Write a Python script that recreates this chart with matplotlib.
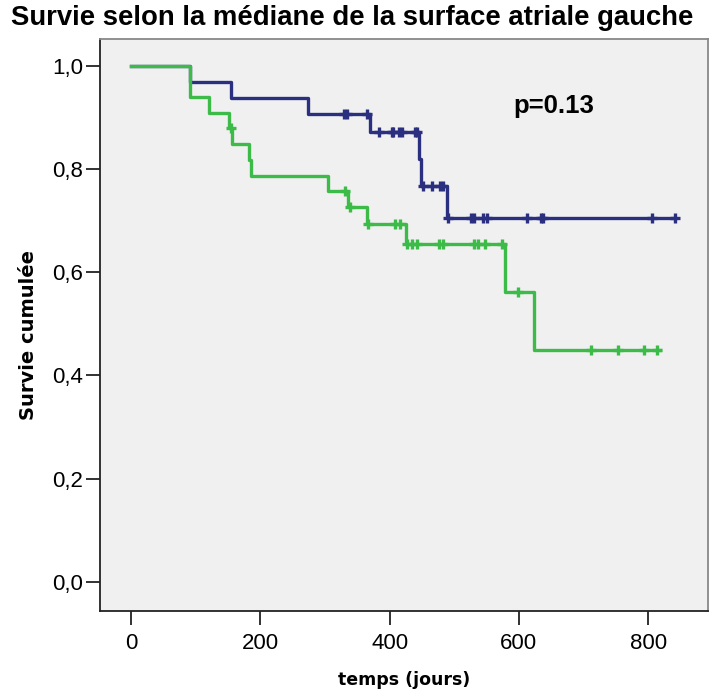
import numpy as np
import matplotlib.pyplot as plt

plt.rcParams['font.family'] = ['Liberation Sans', 'DejaVu Sans']

# Group 1 (blue): event times / survival levels (step after each time)
blue_times = [0, 92, 154, 274, 369, 445, 448, 489, 842]
blue_surv = [1.0, 0.968, 0.937, 0.907, 0.871, 0.820, 0.767, 0.705, 0.705]
blue_censor = [329, 334, 365, 383, 404, 406, 414, 419, 440, 442, 452, 465, 478,
               483, 490, 526, 531, 544, 551, 613, 634, 637, 806, 841]

# Group 2 (green)
green_times = [0, 92, 121, 152, 157, 183, 185, 305, 335, 365, 426, 578, 624, 819]
green_surv = [1.0, 0.939, 0.908, 0.880, 0.848, 0.818, 0.787, 0.758, 0.727,
              0.693, 0.654, 0.561, 0.449, 0.449]
green_censor = [154, 331, 339, 366, 409, 416, 427, 434, 443, 477, 483, 531, 536,
                548, 574, 598, 711, 753, 793, 813]

x_ticks = [0, 200, 400, 600, 800]
y_ticks = [0.0, 0.2, 0.4, 0.6, 0.8, 1.0]
y_labels = ['0,0', '0,2', '0,4', '0,6', '0,8', '1,0']

BLUE = '#2b2f7f'
GREEN = '#3cbb48'


def level_at(times, surv, t):
    # value of the step curve at time t
    i = np.searchsorted(times, t, side='right') - 1
    return surv[i]


fig = plt.figure(figsize=(7.09, 6.93), dpi=100)
ax = fig.add_axes([0.141, 0.118, 0.858, 0.826])
ax.set_facecolor('#f0f0f0')

for times, surv, cens, col in [(blue_times, blue_surv, blue_censor, BLUE),
                               (green_times, green_surv, green_censor, GREEN)]:
    ax.step(times, surv, where='post', color=col, lw=2.4, zorder=3)
    cy = [level_at(times, surv, t) for t in cens]
    ax.plot(cens, cy, ls='none', marker='+', ms=7, mew=2.4, color=col, zorder=4)

ax.text(591, 0.922, 'p=0.13', fontsize=18.5, fontweight='bold', ha='left', va='center')

ax.set_xlim(-48, 893)
ax.set_ylim(-0.057, 1.052)
ax.set_xticks(x_ticks)
ax.set_yticks(y_ticks)
ax.set_yticklabels(y_labels)
ax.tick_params(axis='both', direction='out', length=10, width=1.3,
               labelsize=16, color='#222222')
ax.tick_params(axis='x', pad=6)
ax.tick_params(axis='y', pad=2)

for side in ['left', 'bottom']:
    ax.spines[side].set_color('#222222')
    ax.spines[side].set_linewidth(1.3)
for side in ['top', 'right']:
    ax.spines[side].set_color('#888888')
    ax.spines[side].set_linewidth(1.3)

fig.text(0.497, 0.974, 'Survie selon la médiane de la surface atriale gauche',
         fontsize=19.8, fontweight='bold', ha='center', va='center')
ax.set_xlabel('temps (jours)', fontsize=12.5, fontweight='bold', labelpad=12,
              family=['DejaVu Sans'])
ax.set_ylabel('Survie cumulée', fontsize=14, fontweight='bold',
              family=['DejaVu Sans'])
ax.yaxis.set_label_coords(-0.102, 0.4825)

fig.savefig('out.png', dpi=100)
